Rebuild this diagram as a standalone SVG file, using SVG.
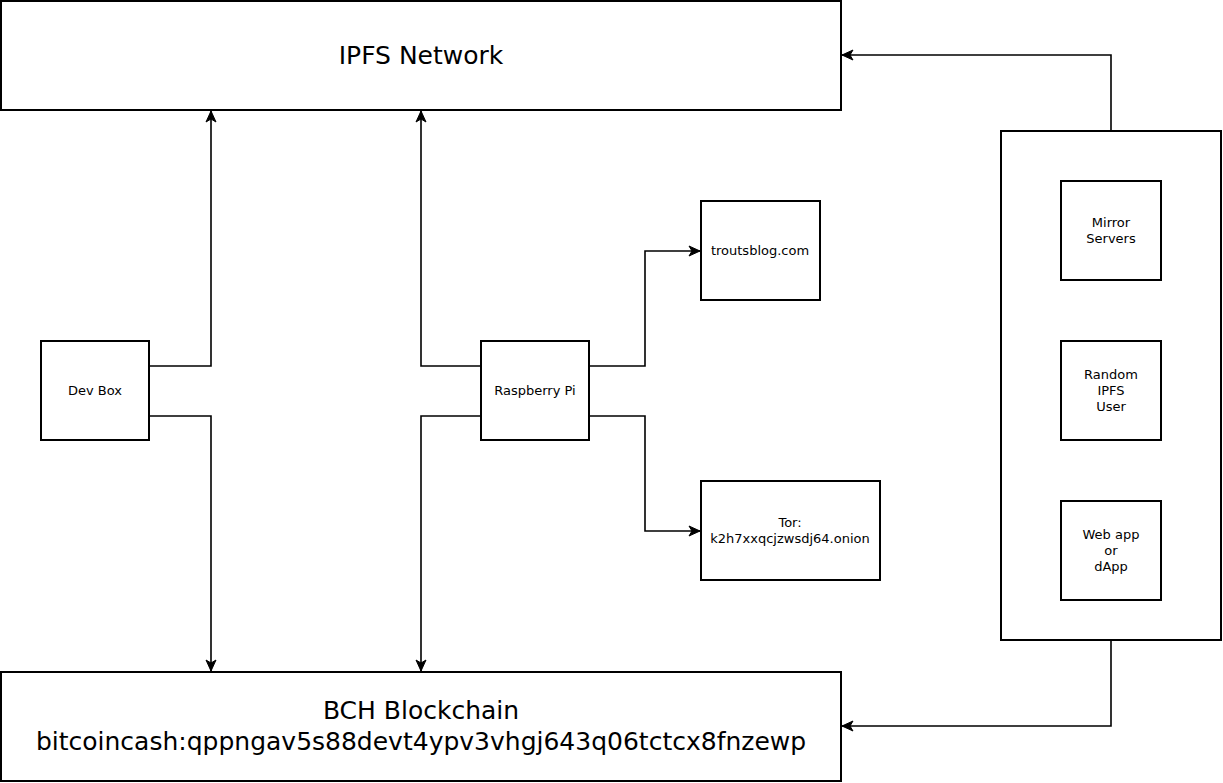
<svg xmlns="http://www.w3.org/2000/svg" width="1223" height="783" viewBox="0 0 1223 783">
<style>
.box{fill:#fff;stroke:#000;stroke-width:2}
.ln{fill:none;stroke:#000;stroke-width:1.6}
text{font-family:"DejaVu Sans",sans-serif;fill:#000;text-anchor:middle;dominant-baseline:central}
.big{font-size:25px}
.sm{font-size:13px}
</style>
<defs>
<marker id="arr" markerUnits="userSpaceOnUse" markerWidth="14" markerHeight="12" viewBox="0 0 14 12" refX="12" refY="6" orient="auto">
<path d="M1,1 L12,6 L1,11 L4,6 Z" fill="#000" stroke="#000" stroke-width="1"/>
</marker>
</defs>
<rect width="1223" height="783" fill="#fff"/>
<g id="connectors">
<path class="ln" d="M149,366 H211 V111" marker-end="url(#arr)"/>
<path class="ln" d="M149,416 H211 V671" marker-end="url(#arr)"/>
<path class="ln" d="M481,366 H421 V111" marker-end="url(#arr)"/>
<path class="ln" d="M481,416 H421 V671" marker-end="url(#arr)"/>
<path class="ln" d="M589,366 H645 V251 H700" marker-end="url(#arr)"/>
<path class="ln" d="M589,416 H645 V531 H700" marker-end="url(#arr)"/>
<path class="ln" d="M1111,131 V55 H842" marker-end="url(#arr)"/>
<path class="ln" d="M1111,640 V726 H842" marker-end="url(#arr)"/>
</g>
<g id="ipfs">
<rect class="box" x="1" y="1" width="840" height="109"/>
<text class="big" x="421" y="55">IPFS Network</text>
</g>
<g id="bch">
<rect class="box" x="1" y="672" width="840" height="109"/>
<text class="big" x="421" y="710">BCH Blockchain</text>
<text class="big" x="421" y="741">bitcoincash:qppngav5s88devt4ypv3vhgj643q06tctcx8fnzewp</text>
</g>
<g id="devbox">
<rect class="box" x="41" y="341" width="108" height="99"/>
<text class="sm" x="95" y="390">Dev Box</text>
</g>
<g id="raspberrypi">
<rect class="box" x="481" y="341" width="108" height="99"/>
<text class="sm" x="535" y="390">Raspberry Pi</text>
</g>
<g id="troutsblog">
<rect class="box" x="701" y="201" width="119" height="99"/>
<text class="sm" x="760" y="250">troutsblog.com</text>
</g>
<g id="tor">
<rect class="box" x="701" y="481" width="179" height="99"/>
<text class="sm" x="790" y="522">Tor:</text>
<text class="sm" x="790" y="538">k2h7xxqcjzwsdj64.onion</text>
</g>
<g id="users">
<rect class="box" x="1001" y="131" width="220" height="509"/>
</g>
<g id="mirror">
<rect class="box" x="1061" y="181" width="100" height="99"/>
<text class="sm" x="1111" y="222">Mirror</text>
<text class="sm" x="1111" y="238">Servers</text>
</g>
<g id="random">
<rect class="box" x="1061" y="341" width="100" height="99"/>
<text class="sm" x="1111" y="374">Random</text>
<text class="sm" x="1111" y="390">IPFS</text>
<text class="sm" x="1111" y="406">User</text>
</g>
<g id="webapp">
<rect class="box" x="1061" y="501" width="100" height="99"/>
<text class="sm" x="1111" y="534">Web app</text>
<text class="sm" x="1111" y="550">or</text>
<text class="sm" x="1111" y="566">dApp</text>
</g>
</svg>
